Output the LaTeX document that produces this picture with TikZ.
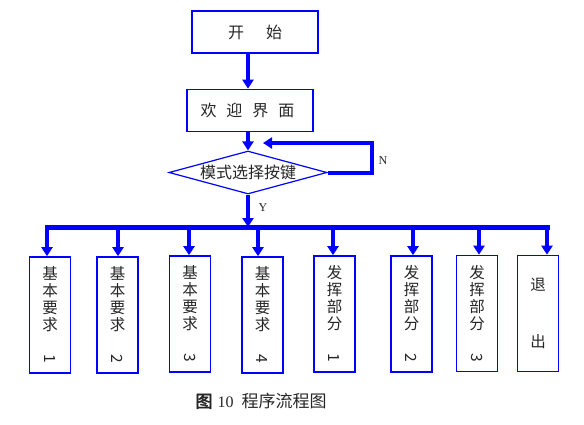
\documentclass[tikz,border=0pt]{standalone}
\usepackage{fontspec}
\setmainfont{Noto Sans CJK SC}
\newfontfamily\latinserif{Liberation Serif}
\newfontfamily\cjkbold[FakeBold=2.5]{Noto Sans CJK SC}
\usetikzlibrary{positioning, arrows.meta, calc, shapes.geometric}

\begin{document}
\begin{tikzpicture}[x=1pt, y=-1pt,
    topbox/.style={
        draw=blue, line width=1.6pt, fill=white, inner sep=0pt,
        minimum width=126pt, minimum height=42pt,
        font=\fontsize{16}{18}\selectfont, text=black!85
    },
    choice/.style={
        diamond, draw=blue, line width=1.2pt, fill=white, inner sep=0pt,
        aspect=3.7, minimum width=158pt, minimum height=43pt,
        font=\fontsize{16}{17}\selectfont, text=black!85
    },
    vbox/.style={
        draw=blue, line width=1.6pt, fill=white, inner sep=0pt,
        minimum width=41pt, minimum height=116pt, align=center,
        font=\fontsize{15.5}{17}\selectfont, text=black!85
    },
    arr/.style={-{Triangle[length=9pt, width=11pt]}, blue, line width=4pt},
    bus/.style={blue, line width=5pt},
    yn/.style={font=\latinserif\fontsize{12}{14}\selectfont, text=black!85},
]

\useasboundingbox (0,0) rectangle (584,424);

% ====== TOP ======
\node[topbox] (start) at (255,32) {开\hspace{22pt}始};
\node[topbox] (welcome) at (250,110.5) {\hspace{-5pt}欢\hspace{10pt}迎\hspace{10pt}界\hspace{10pt}面};
\node[choice] (dm) at (248,172.5) {模式选择按键};

\draw[arr] (start.south -| dm.north) -- (welcome.north -| dm.north);
\draw[arr] (welcome.south -| dm.north) -- (dm.north);

% N loop
\coordinate (nR) at (372,143);
\coordinate (nE) at (263,143);
\draw[arr] (dm.east) -| (nR) -- (nE);
\node[yn] (lblN) at (383,161) {N};

% Y branch
\coordinate (busL) at (45,227);
\coordinate (busR) at (550,227);
\draw[bus] (busL) -- (busR);
\draw[arr] (dm.south) -- (dm.south |- busL);
\node[yn] (lblY) at (263,208) {Y};

% ====== BOTTOM BOXES ======
\node[vbox] (q1) at (50,315) {基\\本\\要\\求\\[7pt]\rotatebox{-90}{1}};
\node[vbox] (q2) at (117.5,315) {基\\本\\要\\求\\[7pt]\rotatebox{-90}{2}};
\node[vbox] (q3) at (190,314) {基\\本\\要\\求\\[7pt]\rotatebox{-90}{3}};
\node[vbox] (q4) at (262.5,315) {基\\本\\要\\求\\[7pt]\rotatebox{-90}{4}};
\node[vbox] (q5) at (334.5,314) {发\\挥\\部\\分\\[7pt]\rotatebox{-90}{1}};
\node[vbox] (q6) at (411.5,314) {发\\挥\\部\\分\\[7pt]\rotatebox{-90}{2}};
\node[vbox] (q7) at (477,313.5) {发\\挥\\部\\分\\[7pt]\rotatebox{-90}{3}};
\node[vbox] (q8) at (538,313.5) {退\\[40pt]出};

% drops from the bus
\coordinate (d1) at (47,227);
\coordinate (d2) at (118,227);
\coordinate (d3) at (189,227);
\coordinate (d4) at (258,227);
\coordinate (d5) at (333,227);
\coordinate (d6) at (413,227);
\coordinate (d7) at (479,227);
\coordinate (d8) at (547,227);
\foreach \i in {1,...,8}
    \draw[arr] (d\i) -- (d\i |- q\i.north);

% ====== CAPTION ======
\node[font=\fontsize{17}{19}\selectfont, text=black!85] (cap) at (261,401)
    {{\cjkbold 图}\hspace{5pt}{\latinserif\fontsize{16}{18}\selectfont 10}\hspace{8pt}程序流程图};

\end{tikzpicture}
\end{document}
